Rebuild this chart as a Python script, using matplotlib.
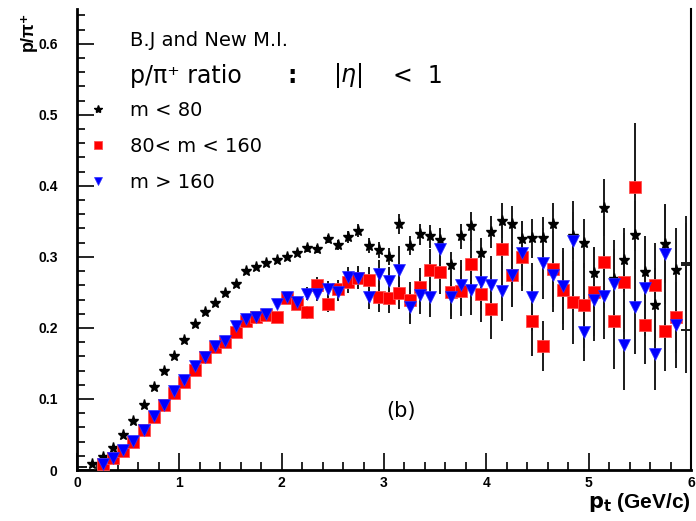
import matplotlib.pyplot as plt
from matplotlib.ticker import MultipleLocator

# bin centres in p_t (GeV/c)
pt = [0.15, 0.25, 0.35, 0.45, 0.55, 0.65, 0.75, 0.85, 0.95, 1.05,
      1.15, 1.25, 1.35, 1.45, 1.55, 1.65, 1.75, 1.85, 1.95, 2.05,
      2.15, 2.25, 2.35, 2.45, 2.55, 2.65, 2.75, 2.85, 2.95, 3.05,
      3.15, 3.25, 3.35, 3.45, 3.55, 3.65, 3.75, 3.85, 3.95, 4.05,
      4.15, 4.25, 4.35, 4.45, 4.55, 4.65, 4.75, 4.85, 4.95, 5.05,
      5.15, 5.25, 5.35, 5.45, 5.55, 5.65, 5.75, 5.85]

# m < 80
star_y = [0.009, 0.019, 0.031, 0.049, 0.069, 0.091, 0.117, 0.140, 0.160, 0.183,
          0.205, 0.222, 0.235, 0.249, 0.262, 0.280, 0.286, 0.292, 0.295, 0.300,
          0.306, 0.312, 0.311, 0.325, 0.317, 0.328, 0.337, 0.316, 0.310, 0.300,
          0.346, 0.316, 0.332, 0.329, 0.324, 0.289, 0.329, 0.343, 0.306, 0.335,
          0.351, 0.346, 0.325, 0.326, 0.326, 0.346, 0.258, 0.330, 0.319, 0.277,
          0.369, 0.269, 0.295, 0.331, 0.279, 0.232, 0.318, 0.282]
star_err = [0.002, 0.002, 0.002, 0.002, 0.002, 0.002, 0.002, 0.002, 0.002, 0.002,
            0.002, 0.002, 0.002, 0.002, 0.002, 0.002, 0.002, 0.002, 0.002, 0.002,
            0.004, 0.005, 0.006, 0.006, 0.007, 0.008, 0.009, 0.010, 0.011, 0.012,
            0.014, 0.014, 0.015, 0.016, 0.017, 0.018, 0.018, 0.020, 0.021, 0.022,
            0.025, 0.025, 0.026, 0.028, 0.030, 0.030, 0.032, 0.033, 0.035, 0.037,
            0.040, 0.042, 0.045, 0.048, 0.050, 0.052, 0.055, 0.058]

# 80 < m < 160 (starts at 0.25)
sq_y = [0.0085, 0.0164, 0.027, 0.040, 0.057, 0.075, 0.091, 0.109, 0.124,
        0.141, 0.159, 0.173, 0.180, 0.194, 0.210, 0.215, 0.218, 0.215, 0.242,
        0.234, 0.222, 0.260, 0.234, 0.255, 0.264, 0.271, 0.268, 0.243, 0.242,
        0.249, 0.239, 0.257, 0.282, 0.279, 0.250, 0.252, 0.290, 0.248, 0.226,
        0.311, 0.275, 0.300, 0.210, 0.175, 0.283, 0.253, 0.236, 0.232, 0.250,
        0.293, 0.210, 0.264, 0.399, 0.204, 0.260, 0.195, 0.215]
sq_err = [0.002, 0.002, 0.002, 0.002, 0.002, 0.002, 0.003, 0.003, 0.003,
          0.003, 0.004, 0.004, 0.004, 0.005, 0.005, 0.005, 0.006, 0.006, 0.007,
          0.008, 0.009, 0.012, 0.011, 0.013, 0.015, 0.016, 0.018, 0.020, 0.021,
          0.023, 0.025, 0.027, 0.029, 0.031, 0.033, 0.035, 0.037, 0.039, 0.041,
          0.044, 0.046, 0.048, 0.050, 0.035, 0.054, 0.056, 0.058, 0.060, 0.062,
          0.065, 0.068, 0.070, 0.090, 0.055, 0.060, 0.056, 0.050]

# m > 160 (starts at 0.25)
tri_y = [0.0085, 0.017, 0.028, 0.041, 0.057, 0.076, 0.092, 0.111, 0.126,
         0.147, 0.159, 0.174, 0.181, 0.203, 0.212, 0.216, 0.220, 0.234, 0.243,
         0.236, 0.248, 0.248, 0.2545, 0.250, 0.272, 0.271, 0.243, 0.276, 0.266,
         0.281, 0.229, 0.246, 0.243, 0.311, 0.244, 0.261, 0.254, 0.265, 0.261,
         0.252, 0.274, 0.305, 0.244, 0.291, 0.274, 0.259, 0.323, 0.194, 0.239,
         0.245, 0.262, 0.176, 0.230, 0.256, 0.163, 0.304, 0.204]
tri_err = [0.002, 0.002, 0.002, 0.002, 0.002, 0.002, 0.003, 0.003, 0.003,
           0.003, 0.004, 0.004, 0.004, 0.005, 0.005, 0.005, 0.006, 0.006, 0.007,
           0.008, 0.009, 0.010, 0.011, 0.012, 0.014, 0.015, 0.017, 0.019, 0.020,
           0.035, 0.024, 0.026, 0.028, 0.030, 0.032, 0.034, 0.036, 0.038, 0.040,
           0.042, 0.044, 0.046, 0.048, 0.050, 0.052, 0.054, 0.056, 0.040, 0.058,
           0.060, 0.062, 0.064, 0.066, 0.068, 0.050, 0.070, 0.060]

# edge bins drawn without markers (only error crosses)
edge_x = [0.05, 5.95, 5.95, 5.95]
edge_y = [0.004, 0.291, 0.288, 0.197]
edge_err = [0.001, 0.067, 0.060, 0.060]

fig = plt.figure(figsize=(6.96, 5.21), dpi=100)
ax = fig.add_axes([77 / 696, 51 / 521, 614 / 696, 461 / 521])

ebar = dict(fmt='none', ecolor='#1a1a1a', elinewidth=1.4, capsize=0, zorder=1)
ax.errorbar(pt, star_y, yerr=star_err, **ebar)
ax.errorbar(pt[1:], sq_y, yerr=sq_err, **ebar)
ax.errorbar(pt[1:], tri_y, yerr=tri_err, **ebar)
ax.errorbar(edge_x, edge_y, yerr=edge_err, xerr=0.05, **ebar)

ax.plot(pt, star_y, ls='none', marker='*', ms=8, color='black', zorder=2,
        label='m < 80')
ax.plot(pt[1:], sq_y, ls='none', marker='s', ms=8.5, color='#ff0000',
        mec='#ff5050', mew=0.6, zorder=3, label='80< m < 160')
ax.plot(pt[1:], tri_y, ls='none', marker='v', ms=8, color='#0000ff',
        mec='#3030ff', mew=0.5, zorder=4, label='m > 160')

ax.set_xlim(0, 6)
ax.set_ylim(0, 0.649)
ax.xaxis.set_major_locator(MultipleLocator(1))
ax.xaxis.set_minor_locator(MultipleLocator(0.2))
ax.yaxis.set_major_locator(MultipleLocator(0.1))
ax.yaxis.set_minor_locator(MultipleLocator(0.02))
ax.tick_params(which='both', direction='in', width=1.2, top=False, right=False)
ax.tick_params(which='major', length=12)
ax.tick_params(which='minor', length=6)
ax.tick_params(axis='y', which='major', pad=14)
ax.tick_params(axis='x', which='major', pad=4)
ax.set_yticks([0, 0.1, 0.2, 0.3, 0.4, 0.5, 0.6])
ax.set_yticklabels(['0', '0.1', '0.2', '0.3', '0.4', '0.5', '0.6'])
for lab in ax.get_xticklabels() + ax.get_yticklabels():
    lab.set_fontfamily('Liberation Sans')
    lab.set_fontweight('bold')
    lab.set_fontsize(10)

ax.spines['top'].set_visible(False)
for s in ['left', 'bottom']:
    ax.spines[s].set_linewidth(2)
ax.spines['right'].set_linewidth(1.5)

def afrac(px, py):
    # pixel position of the reference -> axes fraction
    return (px - 77) / 614, (470 - py) / 461

ax.text(*afrac(130, 41), 'B.J and New M.I.', transform=ax.transAxes,
        fontsize=14, va='center', ha='left')
ratio_parts = [(130, 'p/π⁺ ratio'), (287, ':'), (333, r'|$\eta$|'), (393, '<  1')]
for px, s in ratio_parts:
    ax.text(*afrac(px, 76), s, transform=ax.transAxes, fontsize=17,
            va='center', ha='left',
            fontweight='bold' if s == ':' else 'normal')
ax.text(*afrac(401, 411), '(b)', transform=ax.transAxes, fontsize=15,
        va='center', ha='center')

leg = ax.legend(loc='upper left', bbox_to_anchor=(0.0106, 0.80), frameon=False,
                fontsize=14, handlelength=1.5, handletextpad=0.9,
                labelspacing=0.87, borderaxespad=0, borderpad=0, markerscale=0.75)

fig.text(0.993, (521 - 508) / 521, r'$\mathbf{p_t}$ (GeV/c)', ha='right',
         va='baseline', fontsize=15, fontweight='bold', family='Liberation Sans')
fig.text(0.04, 0.94, 'p/π⁺', rotation=90, ha='center', va='center',
         fontsize=13, fontweight='bold', family=['Liberation Sans', 'DejaVu Sans'])

fig.savefig('out.png', dpi=100)
